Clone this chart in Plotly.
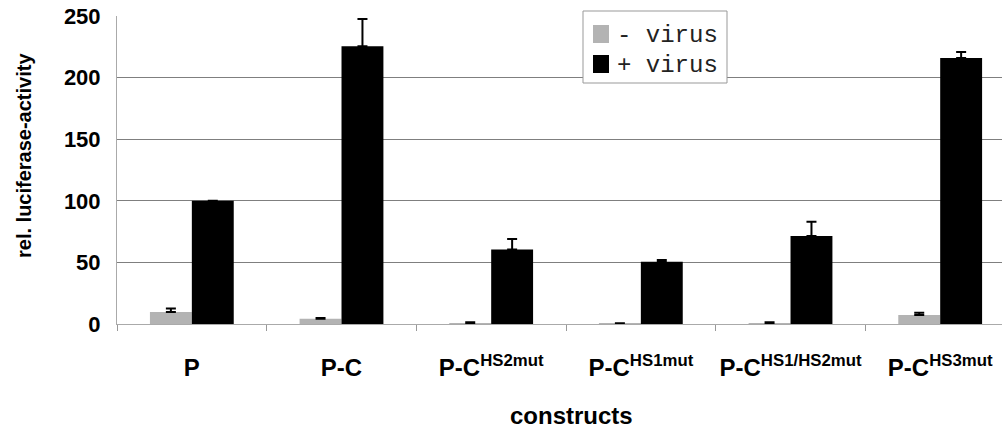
import plotly.graph_objects as go

# Reporter constructs (x categories) and their tick labels
constructs = ["P", "P-C", "P-C HS2mut", "P-C HS1mut", "P-C HS1/HS2mut", "P-C HS3mut"]
tick_labels = [
    "P",
    "P-C",
    "P-C<sup>HS2mut</sup>",
    "P-C<sup>HS1mut</sup>",
    "P-C<sup>HS1/HS2mut</sup>",
    "P-C<sup>HS3mut</sup>",
]

# Relative luciferase activity without / with virus, with upper error bars
series_names = ["- virus", "+ virus"]
series_colors = ["#b3b3b3", "#000000"]
minus_virus = [9.7, 4.3, 0.8, 0.3, 0.8, 7.3]
minus_virus_err = [2.8, 0.6, 0.7, 0.3, 0.6, 1.9]
plus_virus = [100, 225.5, 60.5, 50.5, 71.5, 216]
plus_virus_err = [None, 22, 8.5, 1.5, 11.5, 4.7]

BOLD = "Liberation Sans, Arial, sans-serif"
MONO = "Liberation Mono, Courier New, monospace"

# plot area in pixels
L, R, T, B = 117, 0, 16, 105
W, H = 1002, 429
PW, PH = W - L - R, H - T - B


def px(x):
    return (x - L) / PW


def py(y):
    return (H - B - y) / PH


fig = go.Figure()
for name, color, vals, errs in [
    (series_names[0], series_colors[0], minus_virus, minus_virus_err),
    (series_names[1], series_colors[1], plus_virus, plus_virus_err),
]:
    fig.add_trace(go.Bar(
        name=name,
        x=constructs,
        y=vals,
        marker=dict(color=color, line=dict(width=0)),
        error_y=dict(type="data", symmetric=False, array=errs,
                     arrayminus=[0] * len(errs),
                     color="black", thickness=2, width=5),
    ))

# legend box with colour keys
shapes = [
    dict(type="rect", xref="paper", yref="paper",
         x0=px(583), x1=px(727), y0=py(83), y1=py(11),
         fillcolor="white", line=dict(color="#999999", width=1), layer="above"),
]
annotations = []
for i, (name, color) in enumerate(zip(series_names, series_colors)):
    cy = 34 + 30 * i
    shapes.append(dict(type="rect", xref="paper", yref="paper",
                       x0=px(593), x1=px(609), y0=py(cy + 9), y1=py(cy - 9),
                       fillcolor=color, line=dict(width=0), layer="above"))
    annotations.append(dict(text=name, xref="paper", yref="paper",
                            x=px(615), y=py(cy + 1), xanchor="left", yanchor="middle",
                            showarrow=False,
                            font=dict(family=MONO, size=24, color="#222222")))

annotations += [
    dict(text="<b>rel. luciferase-activity</b>", xref="paper", yref="paper",
         x=px(24), y=py(156), xanchor="center", yanchor="middle",
         textangle=-90, showarrow=False,
         font=dict(family=BOLD, size=20, color="black")),
    dict(text="<b>constructs</b>", xref="paper", yref="paper",
         x=px(571), y=py(415), xanchor="center", yanchor="middle",
         showarrow=False,
         font=dict(family=BOLD, size=24, color="black")),
]

fig.update_layout(
    width=W,
    height=H,
    margin=dict(l=L, r=R, t=T, b=B, pad=0, autoexpand=False),
    paper_bgcolor="white",
    plot_bgcolor="white",
    barmode="group",
    bargap=0.44,
    bargroupgap=0,
    showlegend=False,
    xaxis=dict(
        type="category",
        range=[-0.5, 5.413],
        automargin=False,
        tickmode="array",
        tickvals=constructs,
        ticktext=tick_labels,
        tickangle=0,
        tickson="boundaries",
        ticks="outside",
        ticklen=6,
        tickcolor="#999999",
        tickwidth=1,
        ticklabelstandoff=22,
        tickfont=dict(family=BOLD, size=24, color="black", weight="bold"),
        showline=True,
        linecolor="#aaaaaa",
        linewidth=1,
        showgrid=False,
        zeroline=False,
    ),
    yaxis=dict(
        range=[0, 250],
        automargin=False,
        tickvals=[0, 50, 100, 150, 200, 250],
        ticks="",
        ticklabelstandoff=11,
        tickfont=dict(family=BOLD, size=22, color="black", weight="bold"),
        showgrid=True,
        gridcolor="#7f7f7f",
        gridwidth=1,
        showline=True,
        linecolor="#aaaaaa",
        linewidth=1,
        zeroline=False,
    ),
    shapes=shapes,
    annotations=annotations,
)

fig.write_html("out.html")
